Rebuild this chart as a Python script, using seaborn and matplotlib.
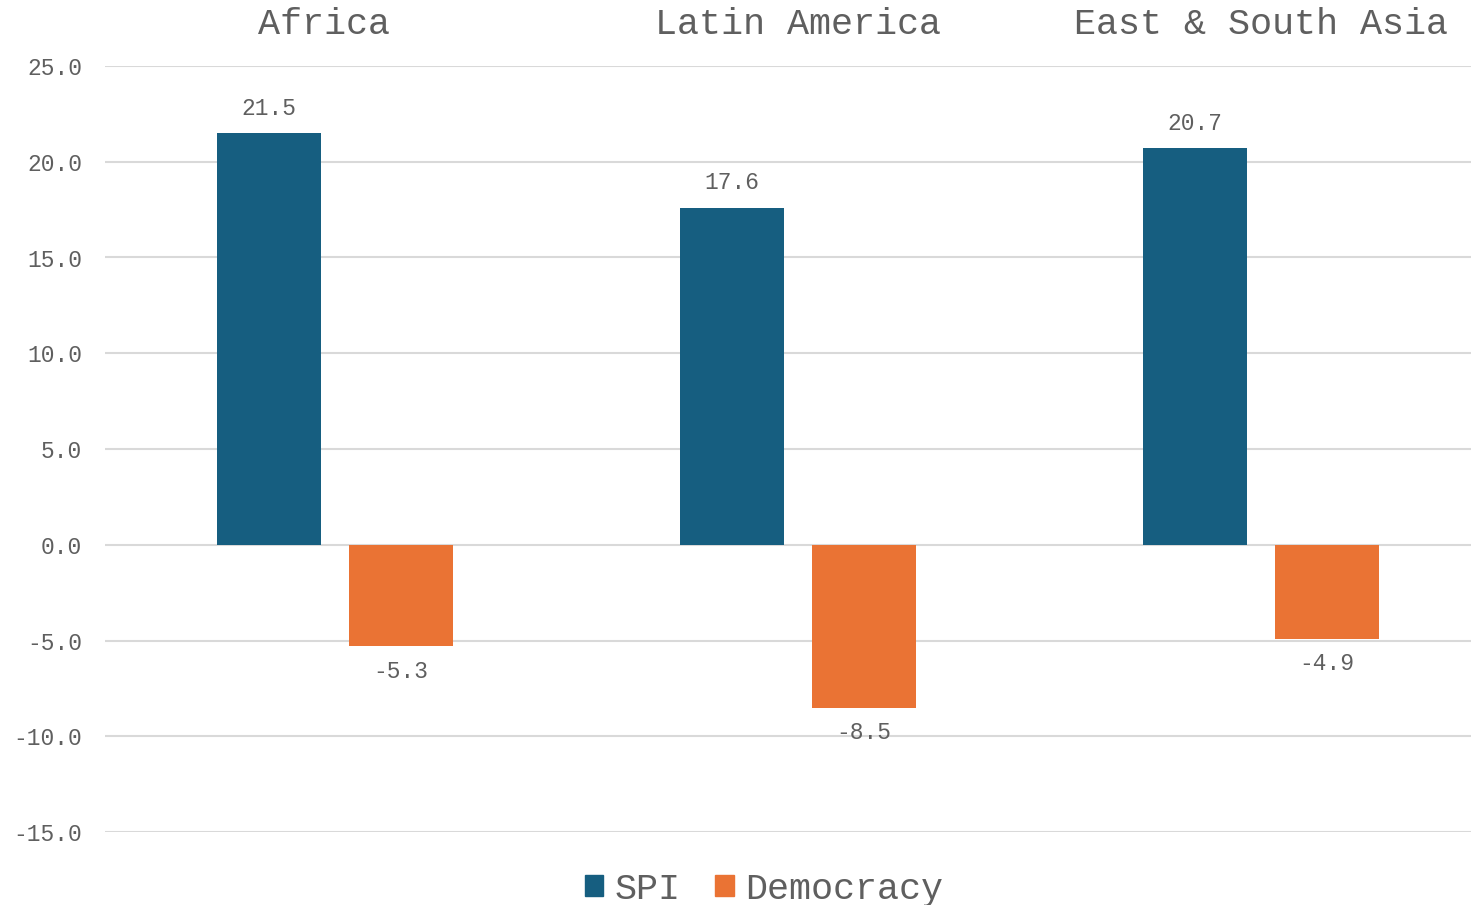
import matplotlib
matplotlib.use("Agg")
import matplotlib.pyplot as plt
import pandas as pd
import seaborn as sns

# values
regions = ["Africa", "Latin America", "East & South Asia"]
spi = [21.5, 17.6, 20.7]
democracy = [-5.3, -8.5, -4.9]
series = ["SPI", "Democracy"]
yticks = [-15, -10, -5, 0, 5, 10, 15, 20, 25]

colors = {"SPI": "#165E80", "Democracy": "#EA7334"}
text_gray = "#5F5F5F"

df = pd.DataFrame({
    "Region": regions * 2,
    "Series": ["SPI"] * len(regions) + ["Democracy"] * len(regions),
    "Value": spi + democracy,
})

sns.set_theme(style="white")
plt.rcParams["font.family"] = ["Liberation Mono", "DejaVu Sans Mono"]

fig = plt.figure(figsize=(14.71, 9.05), dpi=100)
ax = fig.add_axes([105 / 1471, 1 - 832 / 905, 1 - 105 / 1471, (832 - 66) / 905])

sns.barplot(data=df, x="Region", y="Value", hue="Series", order=regions,
            hue_order=series, palette=colors, width=0.57, gap=0.21,
            linewidth=0, saturation=1, ax=ax, legend=False)

# value labels above / below bars
for cont in ax.containers:
    for bar in cont:
        h = bar.get_height()
        x = bar.get_x() + bar.get_width() / 2
        off = 18 if h >= 0 else -18
        ax.annotate(f"{h:.1f}", (x, h), xytext=(0, off), textcoords="offset points",
                    ha="center", va="center", fontsize=16.5, color=text_gray)

ax.set_ylim(-15, 25)
ax.set_xlim(-0.497, 2.453)
ax.set_yticks(yticks)
ax.set_yticklabels([f"{v:.1f}" for v in yticks])
ax.yaxis.grid(True, color="#D9D9D9", linewidth=1.5)
ax.set_axisbelow(True)
ax.xaxis.tick_top()
# first label sits a touch left of its group in the original
ax.set_xticks(range(len(regions)))
ax.set_xticklabels([regions[0] + " "] + regions[1:])
ax.tick_params(axis="x", length=0, pad=17.5, labelsize=26.5, labelcolor=text_gray)
ax.tick_params(axis="y", length=0, pad=16.5, labelsize=16.5, labelcolor=text_gray)
ax.set_xlabel("")
ax.set_ylabel("")
for s in ax.spines.values():
    s.set_visible(False)

handles = [plt.Rectangle((0, 0), 1, 1, color=colors[s]) for s in series]
leg = fig.legend(handles, series, loc="center", bbox_to_anchor=(764 / 1471, 1 - 889 / 905),
                 ncol=2, frameon=False, fontsize=26.5, handlelength=0.5, handleheight=0.5,
                 handletextpad=0.3, columnspacing=0.95)
for t in leg.get_texts():
    t.set_color(text_gray)

fig.savefig("out.png", dpi=100)
